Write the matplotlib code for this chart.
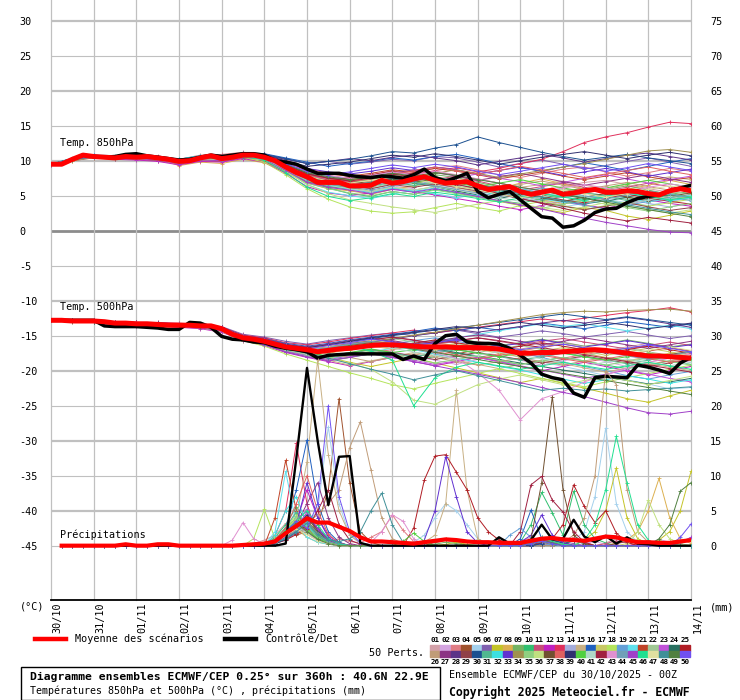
import matplotlib
matplotlib.use("Agg")
import matplotlib.pyplot as plt
import matplotlib.transforms as mtransforms
from matplotlib.lines import Line2D
from matplotlib.patches import Rectangle

plt.rcParams['font.family'] = ['DejaVu Sans Mono']

# forecast hours since 30/10 00Z
hours6 = list(range(0, 361, 6))
hours12 = list(range(0, 361, 12))
hours_pr = list(range(6, 361, 6))
day_hours = list(range(0, 361, 24))
dates = ['30/10', '31/10', '01/11', '02/11', '03/11', '04/11', '05/11', '06/11',
         '07/11', '08/11', '09/11', '10/11', '11/11', '12/11', '13/11', '14/11']

member_colors = [
    '#d3a0a8', '#d4a4e0', '#e07c84', '#a0522d', '#a4d0ec', '#8060b0', '#c4c428', '#dcb050',
    '#74b464', '#30c070', '#c84c78', '#c020c0', '#e0305c', '#a4acdc', '#c8b084', '#2060c0',
    '#c8c864', '#b4e45c', '#64a0d8', '#60e0ec', '#c04428', '#a0c894', '#c050d8', '#287060',
    '#b01c24', '#c09c78', '#8c3484', '#5c3488', '#904048', '#1c5090', '#50b890', '#3ce0e0',
    '#6030d0', '#a09050', '#90d080', '#c0e080', '#705030', '#e06060', '#303070', '#50d040',
    '#b0d8c8', '#a02040', '#e090d0', '#70a0b8', '#a040c8', '#20e090', '#e0e0a0', '#409098',
    '#508040', '#7050f0']

# ---- mean and control (6-hourly) ----
t850_mean = [9.5, 9.5, 10.2, 10.8, 10.6, 10.5, 10.4, 10.6, 10.5, 10.6,
             10.4, 10.2, 9.9, 10.0, 10.4, 10.7, 10.3, 10.5, 10.8, 10.8,
             10.5, 10.0, 9.1, 8.3, 7.7, 6.9, 6.9, 6.9, 6.4, 6.4,
             6.5, 7.2, 6.8, 7.0, 7.4, 7.7, 7.2, 6.8, 6.9, 7.0,
             6.4, 5.9, 6.1, 6.3, 5.6, 5.2, 5.5, 5.8, 5.2, 5.4,
             5.7, 5.9, 5.5, 5.5, 5.7, 5.6, 5.3, 5.1, 5.7, 6.0,
             5.7]
t850_ctrl = [9.5, 9.5, 10.2, 10.8, 10.6, 10.5, 10.6, 10.9, 11.0, 10.7,
             10.5, 10.3, 10.1, 10.2, 10.5, 10.8, 10.6, 10.8, 11.0, 11.0,
             10.8, 10.0, 9.8, 9.5, 8.8, 8.2, 8.2, 8.2, 7.9, 7.7,
             7.6, 7.8, 7.7, 7.5, 8.0, 8.8, 7.6, 7.1, 7.6, 8.2,
             5.6, 4.7, 5.2, 5.6, 4.4, 3.2, 2.0, 1.8, 0.5, 0.7,
             1.5, 2.6, 3.1, 3.2, 4.0, 4.6, 4.9, 5.1, 5.7, 6.1,
             6.5]
t500_mean = [-12.8, -12.8, -12.9, -12.9, -12.9, -13.0, -13.2, -13.2, -13.3, -13.3,
             -13.4, -13.5, -13.5, -13.5, -13.6, -13.6, -14.0, -14.8, -15.3, -15.5,
             -15.8, -16.2, -16.6, -16.8, -17.0, -17.3, -17.1, -16.9, -16.8, -16.6,
             -16.4, -16.3, -16.3, -16.4, -16.5, -16.6, -16.6, -16.6, -16.7, -16.7,
             -16.7, -16.8, -16.9, -17.2, -17.5, -17.5, -17.4, -17.4, -17.3, -17.2,
             -17.1, -17.0, -17.1, -17.3, -17.5, -17.7, -17.9, -17.9, -18.0, -18.1,
             -18.2]
t500_ctrl = [-12.8, -12.8, -12.8, -12.8, -12.8, -13.6, -13.7, -13.7, -13.7, -13.8,
             -13.9, -14.1, -14.1, -13.1, -13.2, -13.8, -15.1, -15.5, -15.6, -15.9,
             -16.0, -16.5, -16.8, -17.0, -17.3, -18.2, -17.8, -17.7, -17.6, -17.6,
             -17.6, -17.6, -17.6, -18.4, -17.9, -18.4, -16.1, -15.0, -14.8, -15.9,
             -16.1, -16.1, -16.2, -16.8, -17.8, -18.9, -20.5, -21.0, -21.3, -23.2,
             -23.8, -21.0, -20.8, -20.9, -21.0, -19.2, -19.5, -19.9, -20.4, -18.9,
             -18.1]
# precipitation (mm per 6h), from +6h
pr_mean = [0.0, 0.0, 0.0, 0.0, 0.0, 0.0, 0.2, 0.0, 0.0, 0.2,
           0.2, 0.0, 0.0, 0.0, 0.0, 0.0, 0.0, 0.1, 0.2, 0.3,
           0.6, 1.8, 2.8, 3.9, 3.3, 3.3, 2.7, 2.1, 1.2, 0.6,
           0.6, 0.5, 0.4, 0.3, 0.5, 0.7, 0.9, 0.8, 0.6, 0.5,
           0.5, 0.4, 0.4, 0.4, 0.7, 1.0, 1.1, 0.9, 0.8, 0.7,
           1.0, 1.3, 1.2, 0.8, 0.5, 0.5, 0.4, 0.4, 0.6, 0.8]
pr_ctrl = [0, 0, 0, 0, 0, 0, 0, 0, 0, 0,
           0, 0, 0, 0, 0, 0, 0, 0, 0, 0,
           0.0, 0.3, 12.5, 25.4, 15.0, 5.8, 12.7, 12.8, 0.4, 0.0,
           0, 0, 0, 0, 0, 0, 0, 0, 0, 0,
           0.0, 1.2, 0.3, 0.3, 0.8, 3.0, 0.9, 1.0, 3.7, 1.3,
           0.5, 1.4, 0.3, 1.2, 0.3, 0.2, 0.0, 0.0, 0.0, 0.0]

# ---- 50 perturbed members, T850 (12-hourly) ----
t850_members = [
    [9.5, 10.1, 10.7, 10.5, 10.6, 10.5, 10.0, 10.6, 10.5, 10.9, 10.7, 9.4, 8.0, 7.2, 7.5, 7.0, 7.8, 8.1, 8.5, 7.9, 7.4, 6.8, 6.2, 5.8, 6.3, 6.9, 7.2, 6.6, 6.0, 5.5, 5.9],
    [9.4, 10.3, 10.5, 10.3, 10.4, 10.2, 9.7, 10.2, 10.1, 10.6, 10.2, 8.7, 6.9, 6.2, 5.8, 5.5, 6.4, 6.0, 5.2, 4.8, 5.4, 5.9, 5.1, 4.3, 3.8, 4.4, 5.0, 5.6, 4.9, 4.2, 4.6],
    [9.6, 10.2, 10.8, 10.6, 10.8, 10.7, 10.2, 10.8, 10.9, 11.2, 11.0, 10.1, 8.9, 8.2, 7.7, 7.9, 8.6, 8.3, 8.9, 9.3, 8.7, 8.0, 7.6, 8.2, 8.8, 9.1, 8.4, 7.8, 8.3, 8.9, 8.5],
    [9.5, 10.0, 10.4, 10.2, 10.2, 10.0, 9.5, 10.0, 9.9, 10.4, 9.9, 8.5, 7.0, 6.3, 6.0, 6.6, 7.3, 6.9, 7.7, 7.1, 6.2, 5.4, 4.6, 4.9, 5.6, 6.1, 5.5, 4.8, 4.1, 4.6, 5.2],
    [9.5, 10.4, 10.9, 10.7, 10.3, 10.4, 10.1, 10.5, 10.6, 11.0, 10.8, 9.9, 8.6, 7.4, 6.8, 6.3, 7.0, 7.5, 6.9, 6.3, 5.8, 5.1, 4.6, 3.9, 3.4, 3.9, 4.5, 4.0, 3.6, 4.2, 4.8],
    [9.5, 10.2, 10.6, 10.4, 10.7, 10.6, 10.1, 10.5, 10.4, 10.9, 10.9, 10.3, 9.6, 9.9, 9.5, 9.8, 10.2, 10.0, 10.6, 10.4, 9.8, 9.1, 9.6, 10.1, 9.5, 8.8, 9.3, 9.9, 10.4, 9.8, 9.2],
    [9.4, 10.1, 10.5, 10.2, 10.3, 10.1, 9.6, 10.1, 10.0, 10.5, 10.2, 8.9, 7.4, 6.6, 6.1, 5.6, 6.2, 5.8, 6.3, 5.7, 4.9, 4.2, 3.6, 3.1, 2.6, 3.3, 2.9, 2.1, 1.6, 2.2, 2.8],
    [9.5, 10.0, 10.6, 10.5, 10.4, 10.3, 9.3, 9.8, 9.6, 10.2, 9.7, 8.3, 6.8, 6.0, 5.7, 5.2, 5.9, 6.4, 6.9, 6.2, 5.5, 6.0, 6.8, 7.4, 6.7, 6.0, 5.4, 5.9, 6.5, 7.2, 6.6],
    [9.5, 10.3, 10.6, 10.4, 10.6, 10.5, 10.0, 10.5, 10.4, 10.8, 10.6, 9.2, 7.9, 7.1, 6.9, 7.3, 7.9, 7.5, 8.0, 7.6, 6.9, 6.3, 5.9, 5.2, 4.8, 5.4, 5.9, 6.4, 5.8, 5.2, 5.6],
    [9.5, 10.2, 10.7, 10.5, 10.6, 10.4, 9.9, 10.4, 10.3, 10.8, 10.4, 8.9, 7.2, 6.1, 5.3, 4.9, 5.6, 5.2, 5.9, 5.4, 4.8, 4.3, 3.9, 4.6, 5.3, 4.9, 4.4, 3.8, 4.5, 5.1, 4.7],
    [9.5, 10.1, 10.6, 10.3, 10.4, 10.3, 9.8, 10.3, 10.2, 10.7, 10.5, 9.5, 8.2, 7.5, 7.0, 6.6, 7.2, 6.8, 7.3, 7.8, 7.1, 6.4, 5.8, 6.3, 6.8, 6.2, 5.7, 6.2, 6.8, 6.3, 5.8],
    [9.4, 10.2, 10.5, 10.2, 10.1, 9.9, 9.4, 9.9, 9.8, 10.3, 9.8, 8.2, 6.3, 5.4, 5.0, 5.4, 6.0, 5.6, 5.1, 4.6, 4.1, 3.5, 3.0, 3.6, 4.2, 3.7, 3.2, 3.8, 4.4, 3.9, 3.5],
    [9.5, 10.3, 10.7, 10.5, 10.6, 10.6, 10.1, 10.6, 10.5, 11.0, 10.8, 9.8, 8.6, 7.9, 7.3, 7.7, 8.3, 8.0, 8.6, 9.0, 8.4, 8.9, 9.6, 10.2, 11.3, 12.6, 13.4, 14.0, 14.8, 15.5, 15.3],
    [9.5, 10.2, 10.6, 10.4, 10.5, 10.4, 9.9, 10.4, 10.3, 10.7, 10.3, 8.8, 7.3, 6.8, 6.4, 6.0, 6.7, 7.2, 6.6, 6.1, 5.7, 5.2, 4.7, 4.2, 4.8, 5.5, 5.0, 4.5, 3.9, 3.4, 3.9],
    [9.5, 10.1, 10.5, 10.4, 10.5, 10.4, 9.8, 10.2, 10.2, 10.6, 10.4, 9.0, 7.6, 7.0, 6.5, 6.9, 7.5, 7.0, 6.5, 6.9, 7.4, 6.8, 6.2, 6.6, 7.1, 6.5, 6.0, 6.6, 7.2, 7.7, 7.3],
    [9.5, 10.3, 10.8, 10.6, 10.7, 10.6, 10.2, 10.7, 10.7, 11.1, 11.0, 10.4, 9.8, 9.2, 9.6, 9.9, 10.4, 10.1, 10.6, 10.9, 10.3, 9.6, 9.0, 8.5, 9.1, 9.7, 9.2, 8.6, 9.2, 9.8, 10.3],
    [9.5, 10.2, 10.6, 10.5, 10.5, 10.4, 9.9, 10.3, 10.3, 10.7, 10.5, 9.1, 7.7, 6.9, 6.3, 6.8, 7.4, 7.0, 6.4, 5.9, 6.3, 5.7, 5.0, 4.4, 3.9, 4.5, 5.1, 5.7, 5.1, 4.5, 4.9],
    [9.4, 10.2, 10.6, 10.3, 10.4, 10.3, 9.8, 10.3, 10.1, 10.5, 9.8, 8.0, 6.0, 4.5, 3.4, 2.8, 2.5, 2.7, 3.3, 3.9, 3.3, 2.8, 3.6, 4.2, 3.6, 3.0, 3.6, 4.1, 3.5, 4.0, 4.5],
    [9.5, 10.1, 10.7, 10.5, 10.6, 10.5, 10.0, 10.5, 10.4, 10.8, 10.6, 9.6, 8.4, 7.8, 7.5, 7.9, 8.4, 8.0, 7.5, 7.0, 6.4, 5.8, 5.2, 4.6, 4.1, 3.6, 3.1, 3.6, 4.2, 4.8, 4.3],
    [9.6, 10.3, 10.7, 10.6, 10.7, 10.6, 10.2, 10.7, 10.6, 11.0, 10.4, 8.6, 6.6, 5.5, 5.0, 4.6, 5.2, 5.8, 5.3, 4.7, 5.2, 5.8, 5.2, 4.6, 4.1, 4.6, 5.2, 4.7, 4.1, 4.6, 5.1],
    [9.5, 10.2, 10.6, 10.4, 10.6, 10.4, 9.9, 10.4, 10.3, 10.7, 10.6, 9.7, 8.7, 8.1, 7.8, 8.2, 8.7, 8.4, 8.9, 8.5, 8.0, 7.4, 7.9, 8.4, 7.8, 7.3, 7.8, 8.3, 7.7, 7.2, 7.6],
    [9.5, 10.1, 10.6, 10.4, 10.4, 10.3, 9.8, 10.3, 10.2, 10.6, 10.3, 8.9, 7.5, 6.9, 6.6, 6.2, 6.8, 6.4, 6.9, 6.4, 5.8, 5.3, 4.8, 5.4, 6.0, 5.5, 5.0, 4.5, 5.1, 5.6, 5.2],
    [9.5, 10.2, 10.7, 10.5, 10.5, 10.4, 10.0, 10.4, 10.4, 10.8, 10.6, 9.3, 8.0, 7.3, 7.0, 6.5, 7.1, 7.6, 7.1, 7.6, 8.1, 7.5, 7.0, 6.4, 6.9, 7.5, 8.0, 7.4, 6.8, 7.3, 7.8],
    [9.5, 10.3, 10.7, 10.5, 10.6, 10.5, 10.0, 10.5, 10.4, 10.8, 10.5, 9.2, 7.8, 7.0, 6.4, 6.9, 7.4, 6.8, 6.3, 5.7, 5.1, 4.6, 5.2, 5.8, 5.2, 4.7, 4.2, 4.8, 5.4, 4.9, 4.4],
    [9.5, 10.2, 10.6, 10.4, 10.5, 10.4, 9.9, 10.4, 10.3, 10.8, 10.5, 9.1, 7.7, 7.2, 7.6, 8.0, 8.5, 8.1, 7.6, 7.1, 6.6, 6.0, 5.5, 4.9, 4.4, 4.0, 4.6, 5.2, 4.7, 4.2, 3.8],
    [9.4, 10.1, 10.5, 10.3, 10.3, 10.2, 9.7, 10.2, 10.1, 10.6, 10.4, 9.1, 7.7, 7.1, 6.7, 7.1, 7.6, 7.2, 7.7, 7.2, 6.7, 6.1, 6.6, 7.1, 6.5, 5.9, 6.4, 6.9, 6.3, 5.8, 6.2],
    [9.5, 10.2, 10.6, 10.4, 10.5, 10.4, 9.9, 10.4, 10.3, 10.7, 10.5, 9.4, 8.2, 7.6, 7.2, 7.6, 8.2, 8.7, 8.3, 7.8, 7.2, 7.7, 8.2, 7.6, 7.0, 6.5, 7.0, 7.5, 8.0, 7.4, 6.9],
    [9.5, 10.2, 10.7, 10.5, 10.6, 10.5, 10.0, 10.5, 10.5, 10.9, 10.8, 10.2, 9.6, 9.9, 10.3, 10.0, 10.5, 10.8, 10.4, 10.0, 9.4, 9.9, 10.4, 10.9, 10.4, 9.8, 10.3, 10.8, 11.1, 10.6, 10.1],
    [9.5, 10.1, 10.6, 10.4, 10.5, 10.4, 9.9, 10.4, 10.3, 10.7, 10.5, 9.0, 7.5, 6.8, 6.4, 6.0, 6.6, 6.2, 6.7, 6.2, 5.7, 5.2, 4.6, 4.0, 3.5, 3.0, 3.5, 4.0, 3.4, 2.9, 3.3],
    [9.5, 10.3, 10.7, 10.5, 10.6, 10.6, 10.1, 10.6, 10.6, 11.0, 10.9, 10.3, 9.6, 9.9, 10.2, 10.7, 11.3, 11.1, 11.8, 12.3, 13.4, 12.6, 11.9, 11.2, 10.6, 10.1, 10.5, 10.9, 10.4, 10.0, 9.6],
    [9.5, 10.2, 10.6, 10.4, 10.5, 10.4, 9.9, 10.4, 10.3, 10.7, 10.4, 8.8, 7.1, 6.4, 5.9, 6.4, 6.9, 6.5, 7.0, 6.6, 6.1, 5.5, 5.0, 4.4, 4.9, 5.4, 4.9, 4.3, 4.8, 5.3, 4.8],
    [9.6, 10.3, 10.7, 10.6, 10.6, 10.6, 10.2, 10.7, 10.6, 11.0, 10.6, 9.0, 7.3, 6.5, 6.0, 5.4, 6.1, 5.6, 6.1, 5.5, 5.0, 5.5, 6.0, 5.4, 4.9, 4.3, 4.9, 5.4, 4.8, 4.3, 4.7],
    [9.5, 10.2, 10.6, 10.4, 10.6, 10.5, 10.0, 10.5, 10.4, 10.9, 10.7, 9.8, 8.9, 8.4, 8.1, 8.5, 9.0, 8.6, 9.1, 8.7, 8.1, 8.6, 9.1, 8.5, 7.9, 8.4, 8.9, 8.4, 7.8, 8.3, 8.8],
    [9.5, 10.1, 10.5, 10.3, 10.4, 10.3, 9.8, 10.3, 10.2, 10.6, 10.4, 9.2, 8.0, 7.5, 7.2, 7.6, 8.1, 7.7, 8.2, 8.7, 8.2, 7.6, 8.1, 8.6, 9.1, 9.6, 10.2, 10.8, 11.4, 11.6, 11.2],
    [9.5, 10.2, 10.6, 10.4, 10.4, 10.3, 9.8, 10.3, 10.2, 10.6, 10.2, 8.6, 6.8, 6.0, 5.4, 5.0, 5.6, 5.2, 5.8, 5.3, 4.8, 4.2, 3.7, 3.2, 3.8, 4.3, 3.8, 3.3, 2.8, 3.4, 3.9],
    [9.5, 10.1, 10.6, 10.4, 10.5, 10.4, 9.9, 10.4, 10.3, 10.7, 10.3, 8.5, 6.6, 5.3, 4.4, 3.9, 3.4, 3.0, 2.6, 3.2, 3.8, 4.3, 3.8, 3.3, 2.9, 3.4, 4.0, 3.5, 3.0, 2.5, 3.0],
    [9.5, 10.2, 10.7, 10.5, 10.6, 10.5, 10.0, 10.5, 10.4, 10.8, 10.6, 9.4, 8.1, 7.5, 7.1, 6.7, 7.3, 6.9, 7.4, 7.0, 6.5, 5.9, 5.3, 4.7, 4.2, 4.8, 5.3, 4.8, 4.3, 4.9, 5.4],
    [9.5, 10.2, 10.6, 10.4, 10.5, 10.4, 9.9, 10.4, 10.3, 10.7, 10.5, 9.3, 8.0, 7.4, 7.0, 7.4, 8.0, 8.6, 9.1, 8.6, 8.1, 8.6, 9.2, 8.7, 8.2, 7.6, 8.1, 8.6, 9.1, 8.5, 8.0],
    [9.5, 10.3, 10.7, 10.5, 10.7, 10.6, 10.1, 10.6, 10.6, 11.0, 10.8, 10.0, 9.2, 9.5, 9.8, 10.3, 10.8, 10.5, 11.0, 10.6, 10.1, 9.5, 10.0, 10.5, 10.9, 11.3, 10.8, 10.3, 10.8, 11.2, 10.7],
    [9.5, 10.2, 10.6, 10.4, 10.5, 10.4, 9.9, 10.4, 10.3, 10.7, 10.4, 8.9, 7.4, 6.7, 6.2, 6.6, 7.2, 6.8, 7.3, 6.8, 6.3, 6.8, 7.3, 6.7, 6.1, 5.6, 6.1, 6.7, 7.2, 6.7, 6.2],
    [9.5, 10.1, 10.6, 10.4, 10.4, 10.3, 9.8, 10.3, 10.2, 10.6, 10.3, 8.8, 7.2, 6.5, 6.0, 5.6, 6.2, 5.8, 6.3, 5.8, 5.3, 4.7, 4.2, 4.8, 5.4, 4.9, 4.3, 3.8, 4.4, 4.9, 4.4],
    [9.5, 10.2, 10.7, 10.5, 10.6, 10.5, 10.0, 10.5, 10.4, 10.8, 10.6, 9.4, 8.1, 7.5, 7.1, 7.5, 8.1, 7.7, 7.2, 6.6, 6.0, 5.3, 4.6, 3.9, 3.2, 2.5, 1.9, 1.4, 1.9, 1.5, 1.1],
    [9.5, 10.2, 10.6, 10.4, 10.5, 10.4, 9.9, 10.4, 10.3, 10.8, 10.7, 9.7, 8.5, 7.9, 7.5, 7.9, 8.4, 8.0, 8.5, 8.0, 7.4, 6.8, 6.2, 5.6, 6.1, 6.6, 6.1, 5.6, 6.2, 6.7, 6.2],
    [9.5, 10.1, 10.6, 10.4, 10.5, 10.4, 9.9, 10.4, 10.3, 10.7, 10.4, 8.9, 7.3, 6.6, 6.2, 5.8, 6.4, 6.9, 6.4, 5.9, 5.4, 4.9, 5.5, 6.1, 5.6, 5.0, 4.5, 5.1, 5.7, 5.2, 4.7],
    [9.4, 10.2, 10.5, 10.3, 10.3, 10.1, 9.6, 10.1, 10.0, 10.5, 10.2, 8.6, 6.9, 6.2, 5.8, 5.3, 5.9, 5.5, 6.0, 5.5, 4.9, 4.3, 3.7, 3.1, 2.4, 1.8, 1.2, 0.7, 0.2, -0.2, -0.3],
    [9.5, 10.2, 10.6, 10.4, 10.5, 10.4, 9.9, 10.4, 10.3, 10.6, 10.1, 8.3, 6.2, 4.9, 4.3, 4.7, 5.3, 4.9, 5.5, 5.1, 4.6, 4.1, 4.7, 5.3, 4.8, 4.3, 4.9, 5.4, 4.9, 4.4, 4.8],
    [9.5, 10.2, 10.6, 10.4, 10.5, 10.4, 9.9, 10.4, 10.3, 10.8, 10.5, 9.2, 7.8, 7.1, 6.8, 7.2, 7.7, 7.3, 6.8, 6.3, 5.8, 5.2, 4.7, 5.2, 5.8, 5.3, 4.8, 5.3, 5.9, 6.4, 6.0],
    [9.5, 10.2, 10.7, 10.5, 10.6, 10.5, 10.0, 10.5, 10.4, 10.8, 10.5, 9.1, 7.6, 6.9, 6.5, 6.9, 7.5, 7.1, 7.6, 7.2, 6.6, 6.0, 5.4, 4.8, 4.3, 3.8, 4.3, 3.7, 3.2, 2.7, 2.3],
    [9.5, 10.1, 10.6, 10.4, 10.5, 10.4, 9.9, 10.4, 10.3, 10.7, 10.5, 9.5, 8.3, 7.7, 7.3, 7.7, 8.2, 7.8, 8.3, 7.9, 7.3, 6.8, 6.2, 5.7, 5.1, 4.6, 4.1, 3.5, 3.0, 2.5, 2.0],
    [9.5, 10.2, 10.6, 10.5, 10.6, 10.5, 10.0, 10.5, 10.4, 10.8, 10.6, 9.6, 8.5, 8.0, 8.4, 8.9, 9.4, 9.0, 9.5, 9.1, 8.5, 8.0, 8.5, 9.0, 9.5, 9.0, 8.5, 9.0, 9.6, 9.1, 8.6],
]

# ---- 50 perturbed members, T500 (12-hourly) ----
t500_members = [
    [-12.8, -12.9, -13.1, -13.3, -13.5, -13.4, -13.6, -13.8, -14.3, -15.5, -16.0, -16.8, -17.3, -17.0, -16.6, -16.1, -15.8, -16.2, -16.6, -16.2, -15.8, -16.3, -16.9, -16.4, -15.9, -16.5, -17.1, -16.6, -16.1, -16.7, -17.2],
    [-12.8, -12.8, -12.7, -13.0, -13.2, -13.1, -13.3, -13.4, -13.9, -15.2, -15.9, -16.9, -17.6, -18.0, -17.4, -16.9, -17.3, -17.9, -18.5, -19.1, -18.4, -17.8, -18.5, -19.2, -18.6, -18.0, -18.7, -19.4, -18.8, -18.2, -18.8],
    [-12.8, -13.0, -13.0, -13.4, -13.6, -13.5, -13.8, -13.9, -14.4, -15.6, -16.2, -17.1, -17.8, -18.6, -18.1, -17.4, -17.0, -16.5, -16.9, -17.5, -18.1, -17.6, -17.0, -17.6, -18.2, -17.7, -17.2, -17.8, -18.4, -17.9, -17.4],
    [-12.7, -12.8, -12.9, -13.1, -13.1, -13.3, -13.4, -13.5, -13.8, -15.0, -15.6, -16.4, -16.8, -17.3, -16.8, -16.3, -16.0, -16.4, -17.0, -17.6, -17.0, -16.5, -17.1, -17.7, -17.2, -16.6, -17.2, -17.8, -18.3, -17.8, -17.3],
    [-12.8, -12.9, -13.0, -13.2, -13.4, -13.4, -13.5, -13.7, -14.1, -15.4, -16.0, -16.9, -17.5, -17.1, -16.5, -16.0, -16.4, -16.0, -15.6, -16.1, -16.7, -17.4, -18.1, -18.7, -19.4, -20.0, -20.7, -21.3, -21.9, -22.6, -22.4],
    [-12.8, -12.8, -12.8, -13.0, -13.1, -13.2, -13.3, -13.4, -13.7, -14.8, -15.2, -15.8, -16.2, -15.7, -15.3, -14.9, -14.6, -15.0, -14.6, -14.2, -14.7, -15.2, -14.8, -14.3, -14.7, -15.2, -14.8, -14.4, -14.9, -15.4, -15.0],
    [-12.8, -12.9, -13.0, -13.3, -13.4, -13.5, -13.6, -13.7, -14.2, -15.4, -16.1, -17.0, -17.6, -18.1, -18.8, -19.4, -18.8, -18.2, -18.9, -19.6, -20.3, -21.0, -21.7, -21.1, -21.8, -22.5, -23.2, -24.0, -24.5, -23.6, -22.8],
    [-12.8, -12.9, -12.9, -13.2, -13.3, -13.3, -13.5, -13.6, -14.0, -15.3, -15.8, -16.6, -17.1, -17.5, -17.0, -16.5, -16.9, -16.4, -16.0, -16.4, -16.9, -17.5, -18.0, -17.5, -17.0, -17.5, -18.1, -18.6, -18.0, -17.5, -18.0],
    [-12.8, -12.9, -13.0, -13.2, -13.3, -13.4, -13.4, -13.5, -13.9, -15.1, -15.6, -16.3, -16.7, -16.3, -15.9, -15.5, -15.9, -16.3, -15.9, -15.4, -15.9, -16.4, -16.0, -15.5, -16.0, -16.5, -16.1, -15.6, -16.1, -16.6, -16.2],
    [-12.8, -12.9, -13.1, -13.3, -13.5, -13.5, -13.7, -13.8, -14.3, -15.6, -16.3, -17.3, -18.0, -18.5, -18.1, -17.6, -18.0, -18.5, -18.0, -17.5, -18.0, -18.6, -19.1, -18.6, -18.1, -18.6, -19.2, -19.7, -19.2, -18.6, -19.1],
    [-12.8, -12.8, -12.9, -13.1, -13.2, -13.3, -13.4, -13.6, -14.0, -15.2, -15.7, -16.5, -16.9, -16.5, -16.0, -15.6, -15.2, -15.7, -16.2, -15.8, -15.3, -15.8, -16.3, -15.8, -15.4, -15.9, -16.4, -16.9, -16.4, -15.9, -16.4],
    [-12.8, -13.0, -13.1, -13.4, -13.6, -13.6, -13.8, -14.0, -14.5, -15.7, -16.4, -17.4, -18.1, -18.7, -19.3, -18.7, -18.1, -18.7, -19.3, -18.7, -18.1, -18.7, -19.4, -20.0, -19.4, -18.8, -19.4, -20.0, -20.6, -20.0, -19.4],
    [-12.8, -12.8, -12.8, -13.0, -13.1, -13.1, -13.2, -13.4, -13.8, -14.9, -15.3, -16.0, -16.3, -15.9, -15.4, -15.0, -14.6, -14.2, -14.6, -14.2, -13.8, -13.4, -13.0, -12.6, -12.9, -12.5, -12.1, -11.7, -11.4, -11.0, -11.6],
    [-12.8, -12.9, -13.0, -13.2, -13.3, -13.4, -13.5, -13.6, -14.0, -15.3, -15.8, -16.7, -17.2, -16.8, -16.4, -16.0, -16.4, -16.9, -17.4, -16.9, -16.4, -16.9, -17.5, -18.0, -17.5, -16.9, -17.4, -17.9, -18.4, -17.8, -17.3],
    [-12.8, -12.9, -13.0, -13.3, -13.4, -13.5, -13.6, -13.7, -14.1, -15.4, -16.0, -17.0, -17.7, -18.5, -19.2, -18.6, -18.0, -17.4, -17.9, -18.5, -19.1, -19.7, -19.1, -18.5, -19.0, -19.6, -20.2, -19.6, -19.0, -19.5, -20.0],
    [-12.8, -12.8, -12.9, -13.1, -13.2, -13.2, -13.3, -13.5, -13.8, -15.0, -15.4, -16.1, -16.5, -16.1, -15.6, -15.2, -14.8, -14.4, -13.9, -14.3, -13.8, -14.2, -13.7, -13.2, -13.6, -14.0, -13.5, -13.0, -13.4, -13.8, -13.3],
    [-12.8, -12.9, -13.0, -13.2, -13.3, -13.4, -13.5, -13.6, -14.0, -15.3, -15.9, -16.8, -17.4, -17.0, -16.5, -16.1, -16.5, -17.0, -16.6, -16.1, -16.6, -17.2, -17.7, -17.2, -16.7, -17.2, -17.8, -17.3, -16.8, -17.3, -17.8],
    [-12.8, -13.0, -13.1, -13.4, -13.5, -13.6, -13.7, -13.9, -14.4, -15.7, -16.5, -17.6, -18.5, -19.4, -20.3, -21.1, -22.0, -22.6, -21.8, -21.1, -20.4, -19.7, -20.4, -21.1, -21.7, -22.3, -21.6, -21.0, -20.4, -19.8, -19.2],
    [-12.8, -12.9, -13.0, -13.2, -13.3, -13.4, -13.5, -13.6, -14.0, -15.2, -15.8, -16.6, -17.1, -16.7, -16.2, -15.8, -16.2, -15.7, -15.3, -15.8, -16.3, -16.9, -17.5, -18.1, -18.8, -19.4, -20.0, -20.7, -21.2, -20.6, -20.1],
    [-12.8, -12.9, -13.0, -13.3, -13.4, -13.5, -13.6, -13.7, -14.1, -15.4, -16.1, -17.1, -17.8, -18.3, -17.8, -17.3, -16.8, -16.3, -15.8, -15.3, -14.8, -14.3, -13.8, -13.3, -13.7, -13.3, -13.8, -14.3, -13.9, -13.5, -14.0],
    [-12.8, -12.8, -12.9, -13.1, -13.2, -13.3, -13.4, -13.5, -13.9, -15.1, -15.6, -16.4, -16.9, -16.5, -16.0, -15.6, -16.0, -16.5, -17.0, -16.6, -16.1, -16.6, -17.1, -16.7, -16.2, -16.7, -17.2, -17.7, -17.2, -16.7, -17.2],
    [-12.8, -12.9, -13.0, -13.2, -13.4, -13.4, -13.5, -13.7, -14.1, -15.3, -15.9, -16.8, -17.3, -16.9, -16.4, -15.9, -15.4, -15.9, -16.4, -16.9, -17.4, -16.9, -16.4, -16.9, -17.4, -17.9, -17.3, -16.8, -17.3, -17.8, -18.3],
    [-12.8, -12.9, -13.1, -13.3, -13.5, -13.5, -13.7, -13.8, -14.3, -15.6, -16.3, -17.2, -17.8, -18.4, -17.9, -17.4, -17.9, -18.5, -19.1, -18.6, -18.1, -18.7, -19.3, -19.9, -20.5, -21.1, -20.5, -19.9, -20.5, -21.1, -21.6],
    [-12.8, -12.8, -12.9, -13.1, -13.2, -13.2, -13.4, -13.5, -13.9, -15.1, -15.6, -16.4, -16.8, -16.4, -15.9, -15.5, -15.9, -16.4, -16.9, -17.4, -17.9, -18.4, -18.9, -19.4, -19.9, -20.4, -20.9, -21.4, -21.9, -21.6, -21.1],
    [-12.8, -12.9, -13.0, -13.3, -13.4, -13.5, -13.6, -13.8, -14.2, -15.5, -16.1, -17.0, -17.6, -17.2, -16.7, -16.2, -16.6, -16.1, -15.6, -16.0, -16.5, -17.0, -16.5, -16.0, -16.5, -17.0, -17.5, -17.0, -16.5, -17.0, -17.5],
    [-12.8, -12.9, -13.0, -13.2, -13.3, -13.4, -13.5, -13.6, -14.0, -15.3, -15.8, -16.6, -17.1, -17.6, -18.1, -18.7, -18.1, -17.6, -18.1, -18.7, -19.2, -18.7, -18.2, -18.7, -19.2, -18.6, -18.1, -18.6, -19.1, -18.6, -18.2],
    [-12.8, -12.8, -12.8, -13.0, -13.1, -13.2, -13.3, -13.4, -13.8, -15.0, -15.4, -16.2, -16.6, -16.2, -15.7, -15.3, -15.7, -16.2, -15.8, -15.3, -14.9, -15.3, -15.8, -16.3, -15.8, -15.3, -15.8, -16.3, -16.8, -16.3, -15.8],
    [-12.8, -12.9, -13.0, -13.3, -13.4, -13.5, -13.6, -13.7, -14.1, -15.3, -15.9, -16.8, -17.3, -16.9, -16.4, -16.0, -15.5, -15.0, -14.6, -14.1, -14.5, -14.1, -13.7, -13.2, -12.8, -13.2, -12.8, -12.4, -12.8, -13.3, -13.8],
    [-12.8, -12.9, -13.0, -13.2, -13.4, -13.4, -13.5, -13.7, -14.1, -15.4, -16.0, -16.9, -17.5, -18.0, -17.5, -17.0, -17.4, -17.9, -18.4, -17.9, -17.4, -17.9, -18.4, -18.9, -18.4, -17.9, -18.4, -18.9, -19.4, -18.9, -18.4],
    [-12.8, -12.8, -12.9, -13.1, -13.2, -13.3, -13.4, -13.5, -13.9, -15.1, -15.6, -16.3, -16.8, -16.4, -15.9, -15.4, -15.0, -14.6, -14.2, -13.9, -13.5, -13.1, -12.7, -12.3, -11.9, -12.3, -12.7, -12.3, -12.7, -13.1, -13.5],
    [-12.8, -12.9, -13.0, -13.2, -13.3, -13.4, -13.5, -13.6, -14.0, -15.3, -15.9, -16.8, -17.4, -18.0, -17.5, -17.0, -17.5, -18.0, -17.5, -17.0, -17.5, -18.0, -18.5, -18.0, -17.5, -18.0, -18.5, -19.0, -18.5, -18.0, -18.5],
    [-12.8, -12.9, -13.0, -13.3, -13.4, -13.5, -13.6, -13.7, -14.1, -15.4, -16.0, -16.9, -17.4, -17.0, -16.5, -16.1, -16.5, -17.0, -17.6, -18.2, -18.8, -19.4, -19.9, -20.6, -21.2, -21.8, -21.3, -20.7, -21.2, -21.8, -21.3],
    [-12.8, -12.8, -12.9, -13.1, -13.2, -13.3, -13.4, -13.5, -13.9, -15.1, -15.6, -16.4, -16.9, -16.4, -16.0, -15.5, -15.9, -16.4, -16.0, -15.5, -16.0, -16.5, -16.1, -15.6, -16.1, -16.6, -16.2, -15.7, -16.2, -16.7, -16.3],
    [-12.8, -12.9, -13.0, -13.2, -13.3, -13.4, -13.5, -13.6, -14.0, -15.2, -15.8, -16.7, -17.2, -16.8, -16.3, -15.9, -15.4, -14.9, -14.5, -14.0, -13.5, -13.0, -12.5, -12.0, -11.7, -11.5, -11.6, -11.4, -11.3, -11.2, -11.5],
    [-12.8, -12.9, -13.0, -13.3, -13.4, -13.5, -13.6, -13.8, -14.2, -15.5, -16.2, -17.1, -17.7, -18.2, -17.7, -17.2, -17.7, -18.3, -18.9, -18.4, -17.9, -18.5, -19.1, -18.6, -18.1, -18.6, -19.2, -18.7, -18.2, -18.7, -19.2],
    [-12.8, -12.9, -13.0, -13.2, -13.4, -13.4, -13.5, -13.7, -14.1, -15.4, -16.0, -16.9, -17.5, -18.2, -18.9, -19.8, -21.6, -24.2, -24.8, -23.4, -22.0, -21.2, -20.6, -21.3, -22.0, -21.4, -20.8, -21.4, -22.0, -21.4, -20.8],
    [-12.8, -12.8, -12.9, -13.1, -13.2, -13.3, -13.4, -13.5, -13.9, -15.1, -15.6, -16.4, -16.9, -16.5, -16.1, -15.7, -16.1, -16.6, -17.1, -16.7, -16.2, -16.7, -17.2, -17.7, -17.2, -16.7, -17.2, -17.7, -18.2, -17.7, -17.2],
    [-12.8, -12.9, -13.0, -13.3, -13.4, -13.5, -13.6, -13.7, -14.1, -15.3, -15.9, -16.8, -17.3, -16.9, -16.4, -15.9, -16.3, -16.8, -17.3, -17.8, -18.3, -17.8, -17.3, -17.8, -18.3, -18.8, -18.3, -17.8, -18.3, -18.8, -18.3],
    [-12.8, -12.8, -12.9, -13.1, -13.2, -13.3, -13.4, -13.5, -13.9, -15.1, -15.6, -16.3, -16.7, -16.3, -15.8, -15.3, -14.9, -14.5, -14.1, -13.7, -13.9, -13.5, -13.1, -13.5, -13.9, -13.5, -13.1, -13.5, -14.0, -13.6, -13.2],
    [-12.8, -12.9, -13.0, -13.2, -13.4, -13.4, -13.5, -13.7, -14.1, -15.4, -16.0, -16.9, -17.4, -17.9, -17.4, -16.9, -17.4, -17.0, -16.5, -17.0, -17.5, -18.0, -17.5, -17.0, -17.5, -18.0, -18.5, -18.0, -17.5, -18.0, -18.5],
    [-12.8, -12.9, -13.0, -13.3, -13.4, -13.5, -13.6, -13.8, -14.2, -15.5, -16.1, -17.0, -17.6, -17.2, -16.8, -16.4, -16.8, -17.3, -17.8, -18.3, -17.8, -17.3, -17.8, -18.3, -18.8, -19.3, -18.8, -18.3, -18.8, -19.3, -18.8],
    [-12.8, -12.8, -12.9, -13.1, -13.2, -13.3, -13.4, -13.5, -13.9, -15.1, -15.6, -16.4, -16.8, -16.4, -16.0, -15.6, -15.2, -15.6, -16.1, -15.7, -15.3, -15.7, -16.2, -16.7, -17.2, -17.7, -18.2, -18.7, -19.2, -19.7, -20.2],
    [-12.8, -12.9, -13.0, -13.2, -13.3, -13.4, -13.5, -13.6, -14.0, -15.3, -15.9, -16.8, -17.3, -16.9, -16.4, -16.0, -16.4, -16.9, -17.5, -18.2, -20.3, -22.8, -27.0, -24.0, -23.0, -21.6, -20.6, -19.6, -18.8, -18.2, -17.6],
    [-12.8, -12.9, -13.0, -13.2, -13.3, -13.4, -13.5, -13.6, -14.0, -15.2, -15.8, -16.6, -17.1, -16.7, -16.2, -15.8, -16.2, -16.7, -17.2, -16.8, -16.3, -16.8, -17.3, -17.8, -17.3, -16.8, -17.3, -17.8, -18.3, -17.8, -17.3],
    [-12.8, -12.9, -13.1, -13.3, -13.5, -13.5, -13.7, -13.9, -14.3, -15.6, -16.3, -17.3, -18.0, -18.6, -18.1, -17.6, -18.1, -18.7, -19.3, -19.9, -20.5, -21.1, -21.7, -22.4, -23.1, -23.7, -24.5, -25.3, -26.0, -26.2, -25.8],
    [-12.8, -12.9, -13.0, -13.3, -13.4, -13.5, -13.6, -13.7, -14.1, -15.4, -16.0, -16.9, -17.4, -17.0, -16.5, -17.2, -18.5, -25.0, -21.0, -19.5, -18.8, -19.3, -19.8, -19.3, -18.8, -19.3, -19.8, -19.3, -18.8, -19.3, -19.8],
    [-12.8, -12.8, -12.9, -13.1, -13.2, -13.3, -13.4, -13.5, -13.9, -15.1, -15.6, -16.4, -16.9, -16.5, -16.0, -15.6, -16.0, -16.5, -17.0, -16.6, -16.1, -16.6, -17.1, -16.6, -16.1, -16.6, -17.1, -17.6, -17.1, -16.6, -17.1],
    [-12.8, -12.9, -13.0, -13.2, -13.4, -13.4, -13.5, -13.7, -14.1, -15.4, -16.0, -16.9, -17.5, -18.2, -19.0, -19.8, -20.5, -21.3, -20.6, -20.0, -20.7, -21.4, -22.1, -22.8, -22.5, -22.8, -22.6, -22.9, -22.7, -22.5, -22.3],
    [-12.8, -12.9, -13.0, -13.3, -13.4, -13.5, -13.6, -13.7, -14.1, -15.3, -15.9, -16.8, -17.3, -16.9, -16.4, -16.0, -16.4, -16.9, -17.4, -17.9, -18.4, -18.9, -19.4, -19.9, -20.4, -20.9, -21.4, -21.9, -22.4, -22.9, -23.4],
    [-12.8, -12.8, -12.9, -13.1, -13.2, -13.3, -13.4, -13.5, -13.9, -15.1, -15.6, -16.4, -16.9, -16.4, -16.0, -15.5, -15.9, -16.4, -16.0, -15.6, -16.0, -16.5, -17.0, -16.6, -16.2, -16.7, -17.2, -16.8, -16.3, -16.8, -17.3],
]

# ---- 50 perturbed members, precipitation mm (6-hourly, from +6h) ----
pr_members = [
    [0, 0, 0, 0, 0, 0, 0, 0, 0, 0,  0, 0, 0, 0, 0, 0, 0, 0, 0.3, 0.8,  1.5, 3.2, 2.0, 4.5, 1.8, 0.6, 0.2, 0, 0, 0,  0, 0, 0, 0, 0, 0.3, 0.8, 0.4, 0, 0,  0, 0, 0.2, 0.6, 1.2, 0.8, 0.3, 0, 0, 0,  0, 0.4, 1.0, 0.5, 0, 0, 0, 0, 0, 0],
    [0, 0, 0, 0, 0, 0, 0, 0, 0, 0,  0, 0, 0, 0, 0, 0, 0, 0, 0, 0.4,  0.8, 2.5, 5.0, 3.0, 1.2, 0.4, 0, 0, 0, 0,  0, 0, 0, 0, 0, 0, 0, 0, 0, 0,  0, 0, 0, 0.5, 1.0, 0.6, 0, 0, 0, 0.3,  0.6, 0.2, 0, 0, 0, 0.4, 0.9, 0.5, 0, 0],
    [0, 0, 0, 0, 0, 0, 0, 0, 0, 0,  0, 0, 0, 0, 0, 0, 0, 0, 0, 0,  0.5, 1.2, 2.8, 1.6, 0.8, 0.5, 1.0, 0.6, 0.4, 1.2,  2.0, 4.4, 2.2, 0.6, 0, 0, 0, 0, 0, 0,  0, 0, 0, 0.4, 0.8, 0.3, 0, 0.5, 1.2, 0.6,  0, 0, 0, 0, 0, 0, 0, 0, 0, 0],
    [0, 0, 0, 0, 0, 0, 0, 0, 0, 0,  0, 0, 0, 0, 0, 0, 0, 0, 0, 0,  1.0, 2.2, 1.5, 2.0, 3.0, 8.0, 21.0, 9.0, 2.0, 0.5,  0, 0, 0, 0, 0, 0.5, 1.0, 0.6, 0, 0,  0, 0, 0, 0, 0.4, 0.8, 0.3, 0, 0, 0,  0, 0, 0, 0, 0, 0, 0, 0, 0, 0],
    [0, 0, 0, 0, 0, 0, 0, 0, 0, 0,  0, 0, 0, 0, 0, 0, 0, 0, 0, 0,  0.4, 1.0, 2.0, 3.2, 5.0, 17.0, 6.0, 1.5, 0.3, 0,  0, 0, 0, 0.5, 1.5, 4.0, 6.0, 5.0, 3.0, 1.0,  0.3, 0, 0, 0, 0, 0.5, 1.0, 0.5, 0.8, 2.0,  7.0, 16.8, 6.0, 2.0, 0.5, 0, 0, 0, 0, 0],
    [0, 0, 0, 0, 0, 0, 0, 0, 0, 0,  0, 0, 0, 0, 0, 0, 0, 0, 0, 0,  0.3, 0.8, 1.8, 2.6, 1.0, 0.4, 0, 0, 0, 0,  0, 0, 0, 0, 0, 0, 0, 0, 0, 0,  0, 0, 0, 0, 0, 0, 0.2, 0.6, 0.3, 0,  0, 0, 0, 0, 0, 0, 0, 0, 0.4, 0.8],
    [0, 0, 0, 0, 0, 0, 0, 0, 0, 0,  0, 0, 0, 0, 0, 0, 0, 0, 0, 0,  0.6, 1.5, 3.0, 4.2, 2.0, 0.8, 0.2, 0, 0, 0,  0, 0, 0, 0, 0, 0, 0.2, 0.5, 0.2, 0,  0, 0, 0, 0, 0.5, 1.0, 0.4, 0, 0, 0.8,  2.0, 5.0, 11.1, 4.0, 1.0, 0.3, 0.8, 2.0, 5.0, 10.6],
    [0, 0, 0, 0, 0, 0, 0, 0, 0, 0,  0, 0, 0, 0, 0, 0, 0, 0, 0, 0,  0.5, 1.4, 2.4, 1.2, 0.5, 0.2, 0, 0, 0, 0,  0, 0, 0, 0, 0, 0, 0, 0, 0, 0,  0, 0, 0, 0, 0, 0.4, 0.8, 0.3, 0, 0,  0, 0, 0.4, 0.8, 2.0, 5.0, 9.6, 4.0, 1.0, 0.3],
    [0, 0, 0, 0, 0, 0, 0, 0, 0, 0,  0, 0, 0, 0, 0, 0, 0, 0, 0, 0,  0.8, 2.4, 4.0, 2.8, 1.4, 0.5, 0.2, 0, 0, 0,  0, 0, 0, 0, 0, 0.2, 0.5, 0.3, 0, 0,  0, 0, 0, 0.3, 0.8, 0.5, 0.2, 0, 0, 0,  0, 0, 0, 0, 0, 0, 0, 0, 0, 0],
    [0, 0, 0, 0, 0, 0, 0, 0, 0, 0,  0, 0, 0, 0, 0, 0, 0, 0, 0, 0,  1.2, 3.0, 5.5, 3.6, 1.5, 0.6, 0.2, 0, 0, 0,  0, 0, 0, 0, 0, 0, 0, 0, 0, 0,  0, 0, 0, 0.5, 3.0, 7.6, 4.7, 1.5, 7.8, 3.0,  1.0, 0.4, 0, 0, 0, 0, 0, 0, 0, 0],
    [0, 0, 0, 0, 0, 0, 0, 0, 0, 0,  0, 0, 0, 0, 0, 0, 0, 0, 0, 0,  0.4, 1.1, 2.2, 3.8, 2.5, 1.0, 0.4, 0, 0, 0,  0, 0, 0, 0, 0, 0, 0, 0, 0, 0,  0, 0, 0, 0, 0.3, 0.6, 0.2, 0, 0, 0,  0, 0.3, 0.7, 0.4, 0, 0, 0, 0, 0, 0],
    [0, 0, 0, 0, 0, 0, 0, 0, 0, 0,  0, 0, 0, 0, 0, 0, 0, 0, 0, 0,  0.5, 1.8, 3.5, 8.0, 4.0, 1.5, 0.4, 0, 0, 0,  0, 0, 0, 0, 0, 0, 0, 0, 0, 0,  0, 0, 0, 0, 0, 0.5, 1.2, 0.6, 0, 0,  0, 0, 0, 0, 0, 0, 0, 0, 0, 0],
    [0, 0, 0, 0, 0, 0, 0, 0, 0, 0,  0, 0, 0, 0, 0, 0, 0, 0, 0, 0,  1.5, 5.0, 14.6, 6.0, 1.0, 0.3, 0, 0, 0, 0,  0, 0, 0, 0, 0, 0, 0, 0, 0, 0,  0, 0, 0, 0, 0, 0.3, 0.6, 0.3, 0, 0,  0, 0, 0, 0, 0.2, 0.5, 0.3, 0, 0, 0],
    [0, 0, 0, 0, 0, 0, 0, 0, 0, 0,  0, 0, 0, 0, 0, 0, 0, 0, 0, 0,  0.6, 1.6, 3.2, 2.2, 1.0, 0.4, 0, 0, 0, 0,  0, 0, 0, 0, 0, 0, 0, 0, 0, 0,  0, 0, 0, 0, 0.4, 0.9, 0.5, 0.2, 0, 0,  0, 0, 0, 0, 0, 0, 0, 0, 0, 0],
    [0, 0, 0, 0, 0, 0, 0, 0, 0, 0,  0, 0, 0, 0, 0, 0, 0, 0, 0, 0,  0.8, 2.0, 4.0, 12.0, 26.5, 13.0, 5.0, 1.5, 0.4, 0,  0, 0, 0, 0, 0.5, 1.5, 6.0, 22.2, 8.0, 1.0,  0.2, 0, 0, 0, 0, 0.4, 0.8, 0.4, 0, 0,  0, 0, 0, 0, 0, 0, 0, 0, 0, 0],
    [0, 0, 0, 0, 0, 0, 0, 0, 0, 0,  0, 0, 0, 0, 0, 0, 0, 0, 0, 0,  0.8, 2.5, 8.0, 15.1, 6.0, 2.0, 0.5, 0, 0, 0,  0, 0, 0, 0, 0, 0, 0, 0, 0, 0,  0, 0, 0, 1.0, 5.1, 1.0, 0.3, 0, 0, 0,  0, 0, 0, 0, 0, 0, 0, 0, 0, 0],
    [0, 0, 0, 0, 0, 0, 0, 0, 0, 0,  0, 0, 0, 0, 0, 0, 0, 0, 0, 0,  0.4, 1.0, 2.0, 3.0, 1.6, 0.7, 0.3, 0, 0, 0,  0, 0, 0, 0, 0, 0, 0, 0, 0, 0,  0, 0, 0, 0, 0.4, 1.0, 0.6, 0.2, 0, 0,  0, 0, 0, 0.3, 0.8, 0.4, 0, 0, 0, 0],
    [0, 0, 0, 0, 0, 0, 0, 0, 0, 0,  0, 0, 0, 0, 0, 0, 0, 0, 1.0, 5.2,  1.0, 2.2, 4.6, 2.4, 1.0, 0.3, 0, 0, 0, 0,  0, 0, 0, 0, 0, 0, 0, 0, 0, 0,  0, 0, 0, 0, 0.3, 0.6, 0.3, 0, 0, 0,  0, 0, 0, 0, 0, 0, 0, 0, 0, 0],
    [0, 0, 0, 0, 0, 0, 0, 0, 0, 0,  0, 0, 0, 0, 0, 0, 0, 0, 0, 0,  0.3, 0.9, 2.1, 4.0, 2.6, 1.0, 0.3, 0, 0, 0,  0, 0, 0, 0, 0, 0, 0, 0, 0, 0,  0, 0, 1.5, 2.5, 1.2, 0.4, 0, 0, 0, 0,  0, 0, 0, 0, 0, 0, 0, 0, 0, 0],
    [0, 0, 0, 0, 0, 0, 0, 0, 0, 0,  0, 0, 0, 0, 0, 0, 0, 0, 0, 0,  2.0, 10.6, 3.0, 1.2, 0.5, 0.2, 0, 0, 0, 0,  0, 0, 0, 0, 0, 0, 0, 0, 0, 0,  0, 0, 0, 0, 0, 0.3, 0.6, 0.3, 0, 0,  0, 0, 0, 0, 0, 0, 0, 0, 0, 0],
    [0, 0, 0, 0, 0, 0, 0, 0, 0, 0,  0, 0, 0, 0, 0, 0, 0, 0, 0, 0,  4.0, 12.2, 5.0, 2.0, 0.8, 0.3, 0, 0, 0, 0,  0, 0, 0, 0, 0, 0, 0, 0, 0, 0,  0, 0, 0, 0, 0.2, 0.5, 0.3, 0, 0, 0,  0, 0, 0, 0, 0, 0, 0, 0, 0, 0],
    [0, 0, 0, 0, 0, 0, 0, 0, 0, 0,  0, 0, 0, 0, 0, 0, 0, 0, 0, 0,  0.5, 1.3, 2.6, 1.8, 0.9, 0.4, 0.2, 0, 0, 0,  0, 0, 0, 0, 0, 0, 0, 0, 0, 0,  0, 0, 0, 0, 0.3, 0.7, 0.4, 0, 0, 0,  0, 0, 0, 0, 0, 0.3, 0.7, 0.4, 0, 0],
    [0, 0, 0, 0, 0, 0, 0, 0, 0, 0,  0, 0, 0, 0, 0, 0, 0, 0, 0, 0,  0.6, 1.7, 3.4, 5.2, 2.2, 0.8, 0.3, 0, 0, 0,  0, 0, 0, 0, 0, 0, 0, 0, 0, 0,  0, 0, 0, 0, 0.5, 1.2, 0.6, 0.2, 0, 0,  0, 0, 0, 0, 0, 0, 0, 0, 0, 0],
    [0, 0, 0, 0, 0, 0, 0, 0, 0, 0,  0, 0, 0, 0, 0, 0, 0, 0, 0, 0,  0.7, 1.9, 3.6, 2.0, 0.9, 0.3, 0, 0, 0, 0,  0, 0, 0, 0, 0, 0, 0, 0, 0, 0,  0, 0, 0, 0, 0, 0, 0, 0.3, 0.7, 0.3,  0, 0, 0, 0, 0, 0, 0, 0, 0, 0],
    [0, 0, 0, 0, 0, 0, 0, 0, 0, 0,  0, 0, 0, 0, 0, 0, 0, 0, 0, 0,  0.3, 0.8, 1.6, 2.5, 1.2, 0.5, 0.2, 0, 0, 0,  0, 0, 0, 2.5, 9.4, 12.8, 13.0, 10.5, 8.0, 4.0,  2.0, 0.8, 0.3, 0, 0, 0.4, 1.0, 3.0, 8.7, 5.6,  3.3, 5.0, 1.8, 0.5, 0, 0, 0, 0, 0, 0],
    [0, 0, 0, 0, 0, 0, 0, 0, 0, 0,  0, 0, 0, 0, 0, 0, 0, 0, 0, 0,  0.4, 1.0, 2.0, 3.0, 4.5, 6.0, 8.0, 14.0, 17.7, 10.8,  4.0, 1.0, 0.3, 0, 0, 0, 0, 0, 0, 0,  0, 0, 0, 0, 0, 0, 0, 0.5, 1.5, 4.0,  10.0, 25.0, 23.0, 8.0, 2.0, 0.5, 0, 0, 0, 0],
    [0, 0, 0, 0, 0, 0, 0, 0, 0, 0,  0, 0, 0, 0, 0, 0, 0, 0, 0, 0,  0.6, 1.6, 3.0, 6.0, 9.0, 4.0, 1.2, 0.3, 0, 0,  0, 0, 0, 0, 0, 0, 0, 0, 0, 0,  0, 0, 0, 0, 0.3, 0.7, 0.4, 0, 0, 0,  0, 0, 0, 0, 0, 0, 0, 0, 0, 0],
    [0, 0, 0, 0, 0, 0, 0, 0, 0, 0,  0, 0, 0, 0, 0, 0, 0, 0, 0, 0,  0.5, 1.5, 3.0, 2.0, 0.8, 0.3, 0, 0, 0, 0,  0, 0, 0, 0, 0, 0, 0, 0, 0, 0,  0, 0, 0, 0, 0, 0.3, 0.7, 0.4, 0, 0,  0, 0, 0, 0, 0, 0, 0, 0, 0, 0],
    [0, 0, 0, 0, 0, 0, 0, 0, 0, 0,  0, 0, 0, 0, 0, 0, 0, 0, 0, 0,  0.6, 1.8, 3.8, 2.5, 1.2, 0.5, 0.2, 0, 0, 0,  0, 0, 0, 0, 0, 0, 0, 0, 0, 0,  0, 0, 0, 0, 0.4, 0.9, 0.5, 0.2, 0, 0,  0, 0, 0.3, 0.6, 0.3, 0, 0, 0, 0, 0],
    [0, 0, 0, 0, 0, 0, 0, 0, 0, 0,  0, 0, 0, 0, 0, 0, 0, 0, 0, 0,  0.3, 0.9, 2.0, 3.5, 2.0, 0.8, 0.3, 0, 0, 0,  0, 0, 0, 0, 0, 0, 0, 0, 0, 0,  0, 0, 0, 0, 0, 0.3, 0.8, 0.4, 0, 0,  0, 0, 0, 0, 0, 0, 0, 0, 0, 0],
    [0, 0, 0, 0, 0, 0, 0, 0, 0, 0,  0, 0, 0, 0, 0, 0, 0, 0, 0, 0,  0.9, 2.6, 4.8, 3.0, 1.3, 0.5, 0.2, 0, 0, 0,  0, 0, 0, 0, 0, 0, 0, 0, 0, 0,  0, 0, 0, 0, 0.4, 1.0, 0.5, 0.2, 0, 0,  0, 0, 0, 0, 0, 0, 0, 0, 0, 0],
    [0, 0, 0, 0, 0, 0, 0, 0, 0, 0,  0, 0, 0, 0, 0, 0, 0, 0, 0, 0,  1.5, 5.0, 7.0, 3.0, 1.0, 0.3, 0, 0, 0, 0,  0, 0, 0, 0, 0, 0, 0, 0, 0, 0,  0, 0, 0, 0, 0.3, 0.6, 0.3, 0, 0, 0,  0, 0, 0, 0, 0, 0, 0, 0, 0, 0],
    [0, 0, 0, 0, 0, 0, 0, 0, 0, 0,  0, 0, 0, 0, 0, 0, 0, 0, 0, 0,  0.5, 1.5, 3.0, 9.0, 4.0, 1.2, 0.3, 0, 0, 0,  0, 0, 0, 0, 0.8, 5.0, 12.7, 7.0, 2.0, 0.4,  0, 0, 0, 0.5, 1.5, 4.4, 1.5, 0.4, 0, 0,  0, 0, 0, 0, 0, 0, 0, 0, 0, 0],
    [0, 0, 0, 0, 0, 0, 0, 0, 0, 0,  0, 0, 0, 0, 0, 0, 0, 0, 0, 0,  0.4, 1.2, 2.4, 3.6, 1.8, 0.7, 0.2, 0, 0, 0,  0, 0, 0, 0, 0, 0, 0, 0, 0, 0,  0, 0, 0, 0, 0.3, 0.8, 0.5, 0, 0, 0,  0, 0, 0, 0, 0, 0, 0, 0, 0, 0],
    [0, 0, 0, 0, 0, 0, 0, 0, 0, 0,  0, 0, 0, 0, 0, 0, 0, 0, 0, 0,  0.7, 2.0, 4.2, 2.6, 1.1, 0.4, 0, 0, 0, 0,  0, 0, 0, 0, 0, 0, 0, 0, 0, 0,  0, 0, 0, 0, 0.5, 1.1, 0.6, 0.2, 0, 0,  0, 0, 0, 0, 0, 0, 0, 0, 0, 0],
    [0, 0, 0, 0, 0, 0, 0, 0, 0, 0,  0, 0, 0, 0, 0, 0, 0, 0, 0, 0,  0.8, 2.2, 3.8, 2.0, 0.8, 0.3, 0, 0, 0, 0,  0, 0, 0, 0, 0, 0, 0, 0, 0, 0,  0, 0, 0, 0, 0.4, 0.9, 0.4, 0, 0, 0,  0, 0, 0, 0, 2.0, 6.5, 3.0, 1.0, 0.3, 0],
    [0, 0, 0, 0, 0, 0, 0, 0, 0, 0,  0, 0, 0, 0, 0, 0, 0, 0, 0, 0,  0.5, 1.4, 2.8, 4.0, 2.2, 0.8, 0.2, 0, 0, 0,  0, 0, 0, 0, 0, 0, 0, 0, 0, 0,  0, 0, 0, 0.2, 1.0, 9.0, 21.3, 8.0, 1.5, 0.3,  0, 0, 0, 0, 0, 0, 0, 0, 0, 0],
    [0, 0, 0, 0, 0, 0, 0, 0, 0, 0,  0, 0, 0, 0, 0, 0, 0, 0, 0, 0,  0.9, 2.5, 6.0, 10.0, 5.0, 1.6, 0.4, 0, 0, 0,  0, 0, 0, 0, 0, 0, 0, 0, 0, 0,  0, 0, 0, 0, 0.3, 0.8, 0.4, 0, 0, 0,  0, 0, 0, 0, 0, 0, 0, 0, 0, 0],
    [0, 0, 0, 0, 0, 0, 0, 0, 0, 0,  0, 0, 0, 0, 0, 0, 0, 0, 0, 0,  0.4, 1.2, 2.6, 4.4, 2.4, 0.9, 0.3, 0, 0, 0,  0, 0, 0, 0, 0, 0, 0, 0, 0, 0,  0, 0, 0, 0, 0.2, 0.6, 0.3, 0, 0, 0,  0, 0, 0, 0, 0, 0, 0, 0, 0, 0],
    [0, 0, 0, 0, 0, 0, 0, 0, 0, 0,  0, 0, 0, 0, 0, 0, 0, 0, 0, 0,  0.6, 1.7, 3.4, 2.2, 1.0, 0.4, 0.2, 0, 0, 0,  0, 0, 0.6, 1.8, 0.6, 0, 0, 0, 0, 0,  0, 0, 0, 0, 0.4, 1.0, 0.5, 0, 0, 0,  0, 0, 0, 0, 0, 0, 0, 0, 0, 0],
    [0, 0, 0, 0, 0, 0, 0, 0, 0, 0,  0, 0, 0, 0, 0, 0, 0, 0, 0, 0,  0.5, 1.4, 2.8, 1.8, 0.8, 0.3, 0, 0, 0, 0,  0, 0, 0, 0, 0, 0, 0, 0, 0, 0,  0, 0, 0, 0, 0.3, 0.7, 0.3, 0, 0, 0,  0, 0, 0, 0, 0, 0, 0, 0, 0, 0],
    [0, 0, 0, 0, 0, 0, 0, 0, 0, 0,  0, 0, 0, 0, 0, 0, 0, 0, 0, 0,  0.6, 1.6, 3.0, 2.4, 5.0, 8.0, 3.0, 0.8, 0.2, 0,  0, 0, 0, 0, 0, 0, 0, 0, 0, 0,  0, 0, 0, 2.0, 8.7, 9.9, 6.5, 4.8, 2.0, 0.5,  0, 0, 0, 0, 0, 0, 0, 0, 0, 0],
    [0, 0, 0, 0, 0, 0, 0, 0, 0, 0,  0, 0, 0, 0, 0, 0, 0.8, 3.3, 1.0, 0.2,  0.6, 1.5, 3.0, 2.0, 0.8, 0.3, 0, 0, 0, 0.5,  2.0, 4.4, 3.5, 1.0, 0, 0, 0, 0, 0, 0,  0, 0, 0, 0, 0.3, 0.6, 0.3, 0, 0, 0,  0, 0, 0, 0, 0, 0, 0, 0, 0, 0],
    [0, 0, 0, 0, 0, 0, 0, 0, 0, 0,  0, 0, 0, 0, 0, 0, 0, 0, 0, 0,  0.4, 1.1, 2.2, 3.4, 1.6, 0.6, 0.2, 0, 0, 0,  0, 0, 0, 0, 0, 0, 0, 0, 0, 0,  0, 0, 0, 0, 0.3, 0.7, 0.3, 0, 0, 0,  0, 0, 0, 0, 0, 0, 0, 0, 0, 0],
    [0, 0, 0, 0, 0, 0, 0, 0, 0, 0,  0, 0, 0, 0, 0, 0, 0, 0, 0, 0,  0.5, 1.3, 2.6, 4.8, 2.4, 0.8, 0.3, 0, 0, 0,  0, 0, 0, 0, 0, 0, 0, 0, 0, 0,  0, 0, 0, 0, 0.4, 0.9, 0.5, 0, 0, 0,  0, 0, 0, 0, 0, 0, 0, 0, 0.5, 1.2],
    [0, 0, 0, 0, 0, 0, 0, 0, 0, 0,  0, 0, 0, 0, 0, 0, 0, 0, 0, 0,  0.8, 2.2, 3.5, 5.0, 3.0, 1.0, 0.3, 0, 0, 0,  0, 0, 0, 0, 0, 0, 0, 0, 0, 0,  0, 0, 0, 0, 0.5, 1.2, 0.6, 0.2, 0, 0.8,  3.0, 8.0, 15.6, 9.0, 3.0, 0.8, 0, 0, 0, 0],
    [0, 0, 0, 0, 0, 0, 0, 0, 0, 0,  0, 0, 0, 0, 0, 0, 0, 0, 0, 0,  0.5, 1.4, 2.4, 1.6, 0.7, 0.3, 0, 0, 0, 0,  0, 0, 0, 0, 0, 0, 0, 0, 0, 0,  0, 0, 0, 0, 0.3, 0.7, 0.3, 0, 0, 0,  0, 0, 0, 0, 0, 0, 0, 0.4, 1.0, 0.6],
    [0, 0, 0, 0, 0, 0, 0, 0, 0, 0,  0, 0, 0, 0, 0, 0, 0, 0, 0, 0,  0.4, 1.0, 2.0, 3.2, 1.6, 0.8, 0.6, 1.0, 2.0, 5.0,  7.5, 3.0, 0.5, 0, 0, 0, 0, 0, 0, 0,  0, 0, 0, 0, 0.3, 0.6, 0.3, 0, 0, 0,  0, 0, 0, 0, 0, 0, 0, 0, 0, 0],
    [0, 0, 0, 0, 0, 0, 0, 0, 0, 0,  0, 0, 0, 0, 0, 0, 0, 0, 0, 0,  0.6, 1.8, 3.2, 2.0, 0.9, 0.3, 0, 0, 0, 0,  0, 0, 0, 0, 0, 0, 0, 0, 0, 0,  0, 0, 0, 0, 0.3, 0.8, 0.4, 0, 0, 0,  0, 0, 0, 0, 0, 0, 1.0, 3.0, 7.8, 9.0],
    [0, 0, 0, 0, 0, 0, 0, 0, 0, 0,  0, 0, 0, 0, 0, 0, 0, 0, 0, 0,  0.7, 2.0, 3.5, 2.5, 6.0, 20.0, 7.0, 2.0, 0.4, 0,  0, 0, 0, 0, 0, 0, 0, 0, 0, 0,  0, 0, 0, 0, 0.3, 0.7, 0.3, 0, 0, 0,  0, 0, 0, 0, 0, 0, 0, 0, 1.2, 3.1],
]

W, H = 740, 700


def fx(px):
    return px / W


def fy(py):
    return 1 - py / H


fig = plt.figure(figsize=(W / 100, H / 100), dpi=100)
ax = fig.add_axes([fx(51), 100 / H, 640 / W, 600 / H])
ax.set_xlim(0, 360)
ax.set_ylim(-52.76, 32.96)

# grid
for v in range(-45, 31, 5):
    if v == 0:
        ax.axhline(v, color='#8c8c8c', lw=2.0, zorder=0.5)
    else:
        ax.axhline(v, color='#c0c0c0', lw=1.6 if v % 10 == 0 else 0.8, zorder=0.5)
for h in day_hours:
    ax.axvline(h, color='#c0c0c0', lw=0.9, zorder=0.5, clip_on=False)

# members
for i in range(50):
    c = member_colors[i]
    ax.plot(hours12, t850_members[i], color=c, lw=0.7, marker='+', ms=2.5, mew=0.6, zorder=2)
    ax.plot(hours12, t500_members[i], color=c, lw=0.7, marker='+', ms=2.5, mew=0.6, zorder=2)

ax.plot(hours6, t850_ctrl, color='black', lw=2.5, zorder=4)
ax.plot(hours6, t500_ctrl, color='black', lw=2.5, zorder=4)
ax.plot(hours6, t850_mean, color='#ff0000', lw=3.6, zorder=5)
ax.plot(hours6, t500_mean, color='#ff0000', lw=3.6, zorder=5)

# precipitation on the right-hand mm scale
ax2 = ax.twinx()
ax2.set_ylim(-52.76 + 45, 32.96 + 45)
for i in range(50):
    ax2.plot(hours_pr, pr_members[i], color=member_colors[i], lw=0.7, marker='+', ms=2.5, mew=0.6, zorder=2)
ax2.plot(hours_pr, pr_ctrl, color='black', lw=1.7, zorder=4)
ax2.plot(hours_pr, pr_mean, color='#ff0000', lw=3.0, zorder=5)

# axes styling
for s in ['top', 'left', 'right']:
    ax.spines[s].set_visible(False)
    ax2.spines[s].set_visible(False)
ax2.spines['bottom'].set_visible(False)
ax.spines['bottom'].set_color('black')
ax.spines['bottom'].set_linewidth(1.3)

ax.set_yticks(range(-45, 31, 5))
ax.set_yticklabels([str(v) for v in range(-45, 31, 5)])
ax.tick_params(axis='y', length=0, pad=22.7, labelsize=7.3)
for lbl in ax.get_yticklabels():
    lbl.set_horizontalalignment('left')

ax2.set_yticks(range(0, 76, 5))
ax2.set_yticklabels([str(v) for v in range(0, 76, 5)])
ax2.tick_params(axis='y', length=0, pad=13.7, labelsize=7.3)

ax.set_xticks(day_hours)
ax.set_xticklabels(dates, rotation=90, va='top', ha='center')
ax.tick_params(axis='x', length=0, pad=1.5, labelsize=7.3)
offset = mtransforms.ScaledTranslation(6.5 / 100, 0, fig.dpi_scale_trans)
for lbl in ax.get_xticklabels():
    lbl.set_transform(lbl.get_transform() + offset)

# labels in the plot
ax.text(5, 12.5, 'Temp. 850hPa', fontsize=7.3, va='center', ha='left', zorder=6)
ax.text(5, -10.86, 'Temp. 500hPa', fontsize=7.3, va='center', ha='left', zorder=6)
ax.text(5, -43.45, 'Précipitations', fontsize=7.3, va='center', ha='left', zorder=6)

fig.text(fx(20), fy(606.7), '(°C)', fontsize=7.3, va='center', ha='left')
fig.text(fx(710), fy(607.5), '(mm)', fontsize=7.3, va='center', ha='left')

# legend
fig.add_artist(Line2D([fx(35), fx(66)], [fy(639), fy(639)], color='#ff0000', lw=3.2))
fig.text(fx(75), fy(639), 'Moyenne des scénarios', fontsize=7.3, va='center', ha='left')
fig.add_artist(Line2D([fx(225), fx(256)], [fy(639), fy(639)], color='black', lw=3.2))
fig.text(fx(265), fy(639), 'Contrôle/Det', fontsize=7.3, va='center', ha='left')

fig.text(fx(369), fy(653), '50 Perts.', fontsize=7.3, va='center', ha='left')
cw = 10.4
for i in range(25):
    x0 = 430 + cw * i
    fig.add_artist(Rectangle((fx(x0), fy(650.7)), cw / W, 6 / H, color=member_colors[i],
                             transform=fig.transFigure))
    fig.add_artist(Rectangle((fx(x0), fy(656.7)), cw / W, 6 / H, color=member_colors[i + 25],
                             transform=fig.transFigure))
    fig.text(fx(x0 + cw / 2), fy(640), '%02d' % (i + 1), fontsize=5.4, weight='bold',
             va='center', ha='center')
    fig.text(fx(x0 + cw / 2), fy(662.5), '%02d' % (i + 26), fontsize=5.4, weight='bold',
             va='center', ha='center')

# title box
fig.add_artist(Rectangle((fx(20.5), fy(699.5)), 419.5 / W, 32.5 / H, fill=False,
                         edgecolor='black', lw=1.0, transform=fig.transFigure))
fig.text(fx(30), fy(677), 'Diagramme ensembles ECMWF/CEP 0.25° sur 360h : 40.6N 22.9E',
         fontsize=8.2, weight='bold', va='center', ha='left')
fig.text(fx(30), fy(691), 'Températures 850hPa et 500hPa (°C) , précipitations (mm)',
         fontsize=7.2, va='center', ha='left')
fig.text(fx(449), fy(675), 'Ensemble ECMWF/CEP du 30/10/2025 - 00Z',
         fontsize=7.2, va='center', ha='left')
fig.text(fx(449), fy(692), 'Copyright 2025 Meteociel.fr - ECMWF',
         fontsize=8.3, weight='bold', va='center', ha='left')

fig.savefig('out.png', dpi=100)
